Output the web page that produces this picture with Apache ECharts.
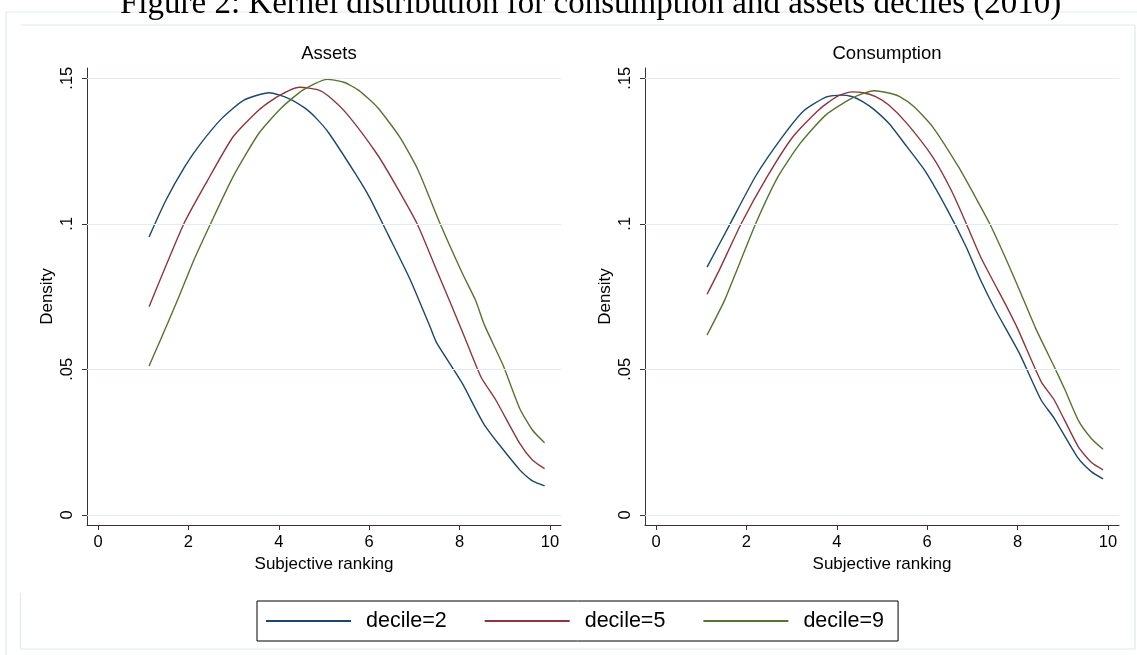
<!DOCTYPE html>
<html>
<head>
<meta charset="utf-8">
<script src="https://cdn.jsdelivr.net/npm/echarts@6/dist/echarts.min.js"></script>
<style>
  html, body { margin: 0; padding: 0; background: #ffffff; }
  #chart { width: 1137px; height: 655px; }
</style>
</head>
<body>
<div id="chart"></div>
<script>
// Panel titles and series names
const panelTitles = ['Assets', 'Consumption'];
const seriesNames = ['decile=2', 'decile=5', 'decile=9'];
const seriesColors = ['#1a476f', '#90353b', '#55752f'];

// Axis ticks
const xTicks = [0, 2, 4, 6, 8, 10];
const yTicks = [0, 0.05, 0.1, 0.15];
const yTickLabels = ['0', '.05', '.1', '.15'];

// Kernel density estimates: [subjective ranking, density]
const assetsDecile2 = [
  [1.13, 0.0955], [1.5, 0.1080], [1.92, 0.1196], [2.25, 0.1271], [2.74, 0.1362],
  [3.23, 0.1425], [3.79, 0.1450], [4.21, 0.1431], [4.58, 0.1397], [4.83, 0.1362],
  [5.11, 0.1311], [5.69, 0.1173], [6.01, 0.1090], [6.42, 0.0962], [6.91, 0.0807],
  [7.36, 0.0641], [7.49, 0.0592], [8.06, 0.0452], [8.55, 0.0309], [9.33, 0.0155],
  [9.61, 0.0117], [9.88, 0.0100]
];
const assetsDecile5 = [
  [1.13, 0.0715], [1.90, 0.1000], [2.41, 0.1145], [2.99, 0.1299], [3.56, 0.1391],
  [3.97, 0.1437], [4.46, 0.1469], [4.87, 0.1460], [5.11, 0.1437], [5.52, 0.1375],
  [6.18, 0.1238], [6.59, 0.1132], [7.06, 0.1000], [7.49, 0.0841], [7.77, 0.0738],
  [8.10, 0.0615], [8.47, 0.0475], [8.80, 0.0395], [9.33, 0.0246], [9.61, 0.0189],
  [9.88, 0.0159]
];
const assetsDecile9 = [
  [1.13, 0.0512], [1.35, 0.0590], [1.76, 0.0738], [2.09, 0.0864], [2.49, 0.1000],
  [2.99, 0.1162], [3.56, 0.1311], [4.05, 0.1397], [4.54, 0.1460], [5.07, 0.1496],
  [5.44, 0.1486], [5.77, 0.1458], [6.18, 0.1400], [6.67, 0.1299], [7.08, 0.1185],
  [7.57, 0.1000], [8.06, 0.0830], [8.35, 0.0738], [8.55, 0.0652], [8.96, 0.0515],
  [9.33, 0.0366], [9.61, 0.0292], [9.88, 0.0248]
];
const consumptionDecile2 = [
  [1.13, 0.0851], [1.64, 0.1000], [2.21, 0.1165], [2.78, 0.1295], [3.27, 0.1388],
  [3.76, 0.1435], [4.09, 0.1442], [4.33, 0.1437], [4.58, 0.1419], [4.82, 0.1393],
  [5.15, 0.1345], [5.55, 0.1265], [5.96, 0.1180], [6.45, 0.1047], [6.86, 0.0921],
  [7.18, 0.0807], [7.51, 0.0704], [8.04, 0.0555], [8.52, 0.0395], [8.81, 0.0332],
  [9.34, 0.0195], [9.63, 0.0149], [9.89, 0.0124]
];
const consumptionDecile5 = [
  [1.13, 0.0758], [1.40, 0.0841], [1.89, 0.1002], [2.46, 0.1162], [3.03, 0.1299],
  [3.60, 0.1391], [4.00, 0.1437], [4.33, 0.1453], [4.58, 0.1450], [4.86, 0.1437],
  [5.15, 0.1408], [5.55, 0.1345], [6.12, 0.1230], [6.53, 0.1116], [6.86, 0.1002],
  [7.18, 0.0887], [7.47, 0.0800], [7.71, 0.0730], [8.00, 0.0640], [8.52, 0.0458],
  [8.81, 0.0395], [9.34, 0.0235], [9.63, 0.0181], [9.89, 0.0155]
];
const consumptionDecile9 = [
  [1.13, 0.0618], [1.52, 0.0738], [1.73, 0.0818], [2.21, 0.1002], [2.70, 0.1162],
  [3.19, 0.1276], [3.76, 0.1374], [4.33, 0.1431], [4.82, 0.1457], [5.10, 0.1451],
  [5.39, 0.1437], [5.71, 0.1402], [6.12, 0.1333], [6.69, 0.1196], [7.09, 0.1085],
  [7.40, 0.0995], [7.74, 0.0880], [8.04, 0.0773], [8.40, 0.0641], [8.81, 0.0509],
  [9.05, 0.0429], [9.34, 0.0326], [9.63, 0.0263], [9.89, 0.0226]
];

const panelData = [
  [assetsDecile2, assetsDecile5, assetsDecile9],
  [consumptionDecile2, consumptionDecile5, consumptionDecile9]
];

const FONT = '"Liberation Sans", Arial, Helvetica, sans-serif';
const GRID_COLOR = '#e3ecef';
const FRAME_COLOR = '#e0e9ec';
const AXIS_COLOR = '#333333';

const panelLefts = [87, 645];
const PLOT_TOP = 68;
const PLOT_W = 474;
const PLOT_H = 457;

const grids = panelLefts.map(l => ({ left: l, top: PLOT_TOP, width: PLOT_W, height: PLOT_H, containLabel: false }));

const xAxes = panelLefts.map((l, i) => ({
  type: 'value', gridIndex: i, min: -0.243, max: 10.243,
  name: 'Subjective ranking', nameLocation: 'middle', nameGap: 30,
  nameTextStyle: { fontFamily: FONT, fontSize: 17, color: '#000' },
  axisLine: { show: true, onZero: false, lineStyle: { color: AXIS_COLOR, width: 1 } },
  axisTick: { show: true, length: 5, customValues: xTicks, lineStyle: { color: AXIS_COLOR } },
  axisLabel: { customValues: xTicks, margin: 9, fontFamily: FONT, fontSize: 16.5, color: '#000' },
  splitLine: { show: false }
}));

const yAxes = panelLefts.map((l, i) => ({
  type: 'value', gridIndex: i, min: -0.00343, max: 0.1535,
  name: 'Density', nameLocation: 'middle', nameGap: 31, nameRotate: 90,
  nameTextStyle: { fontFamily: FONT, fontSize: 17, color: '#000' },
  axisLine: { show: true, onZero: false, lineStyle: { color: AXIS_COLOR, width: 1 } },
  axisTick: { show: true, length: 5, customValues: yTicks, lineStyle: { color: AXIS_COLOR } },
  axisLabel: {
    customValues: yTicks, rotate: 90, margin: 11, fontFamily: FONT, fontSize: 16.5, color: '#000',
    formatter: v => { const k = yTicks.findIndex(t => Math.abs(t - v) < 1e-9); return k >= 0 ? yTickLabels[k] : ''; }
  },
  splitLine: { show: false }
}));

const series = [];
panelData.forEach((sets, p) => {
  // horizontal grid lines at the labelled density values
  series.push({
    type: 'line', xAxisIndex: p, yAxisIndex: p, data: sets[0], z: 1, silent: true,
    symbol: 'none', lineStyle: { opacity: 0 }, tooltip: { show: false },
    markLine: {
      silent: true, symbol: ['none', 'none'], label: { show: false },
      lineStyle: { color: GRID_COLOR, width: 1.2, type: 'solid' },
      data: yTicks.map(t => ({ yAxis: t }))
    }
  });
  sets.forEach((d, s) => {
    series.push({
      name: seriesNames[s], type: 'line', xAxisIndex: p, yAxisIndex: p, data: d, z: 3,
      symbol: 'none', smooth: 0.2,
      lineStyle: { color: seriesColors[s], width: 1.4 },
      itemStyle: { color: seriesColors[s] }
    });
  });
});

const frame = (x1, y1, x2, y2) => ({
  type: 'line', shape: { x1, y1, x2, y2 }, silent: true,
  style: { stroke: FRAME_COLOR, lineWidth: 1.2 }
});

const option = {
  backgroundColor: '#ffffff',
  animation: false,
  title: panelTitles.map((t, i) => ({
    text: t, left: panelLefts[i] + PLOT_W / 2, top: 39, textAlign: 'center',
    textStyle: { fontFamily: FONT, fontSize: 18.5, fontWeight: 'normal', color: '#000' }
  })),
  legend: {
    data: seriesNames, left: 257, top: 601, orient: 'horizontal',
    icon: 'rect', itemWidth: 85, itemHeight: 2, itemGap: 38,
    padding: [9, 14, 9, 9],
    borderColor: '#000', borderWidth: 1, backgroundColor: '#fff',
    textStyle: { fontFamily: FONT, fontSize: 21.5, color: '#000', padding: [0, 0, 0, 10] }
  },
  grid: grids,
  xAxis: xAxes,
  yAxis: yAxes,
  series: series,
  graphic: [
    frame(6, 12, 1137, 12), frame(6, 12, 6, 655),
    frame(20.5, 25, 1135, 25), frame(1135, 25, 1135, 649),
    frame(20.5, 649, 1135, 649), frame(20.5, 593, 20.5, 649),
    {
      type: 'text', left: 120, top: -12, silent: true,
      style: {
        text: 'Figure 2: Kernel distribution for consumption and assets deciles (2010)',
        font: '33px "Liberation Serif", "DejaVu Serif", serif', fill: '#000'
      }
    }
  ]
};

const chart = echarts.init(document.getElementById('chart'), null, { renderer: 'canvas' });
chart.setOption(option);
</script>
</body>
</html>
